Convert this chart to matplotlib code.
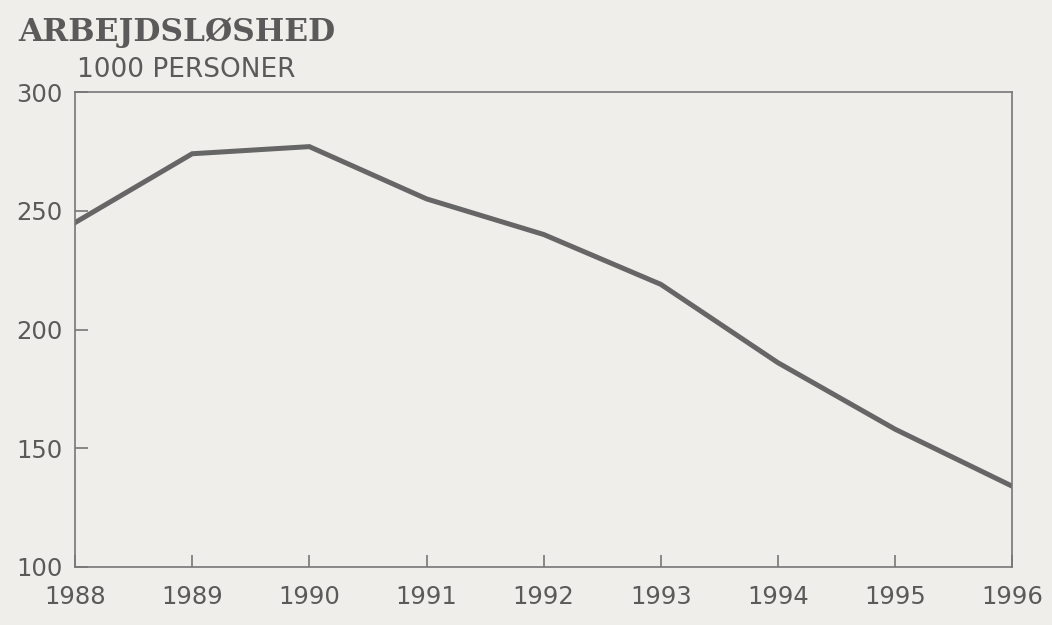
import matplotlib.pyplot as plt

# Unemployment, 1000 persons
years = [1988, 1989, 1990, 1991, 1992, 1993, 1994, 1995, 1996]
persons = [245, 274, 277, 255, 240, 219, 186, 158, 134]
y_ticks = [100, 150, 200, 250, 300]

paper = '#efeeea'
ink = '#5a5a5a'

fig = plt.figure(figsize=(10.52, 6.25), dpi=100, facecolor=paper)
ax = fig.add_axes([0.0713, 0.0928, 0.891, 0.76])
ax.set_facecolor(paper)

ax.plot(years, persons, color='#666666', linewidth=3.6, solid_joinstyle='miter')

ax.set_xlim(1988, 1996)
ax.set_ylim(100, 300)
ax.set_xticks(years)
ax.set_yticks(y_ticks)

for side in ax.spines.values():
    side.set_color('#777777')
    side.set_linewidth(1.2)

ax.tick_params(axis='both', direction='in', length=9, width=1.2, color='#777777',
               labelsize=17.5, labelcolor=ink)
ax.tick_params(axis='x', pad=13)
ax.tick_params(axis='y', pad=9)

# Title and unit label
fig.text(0.017, 0.935, 'ARBEJDSLØSHED', family='DejaVu Serif', weight='bold',
         fontsize=22.5, color=ink, ha='left', va='baseline')
fig.text(0.073, 0.877, '1000 PERSONER', fontsize=19, color=ink,
         ha='left', va='baseline')

fig.savefig('out.png', dpi=100, facecolor=paper)
